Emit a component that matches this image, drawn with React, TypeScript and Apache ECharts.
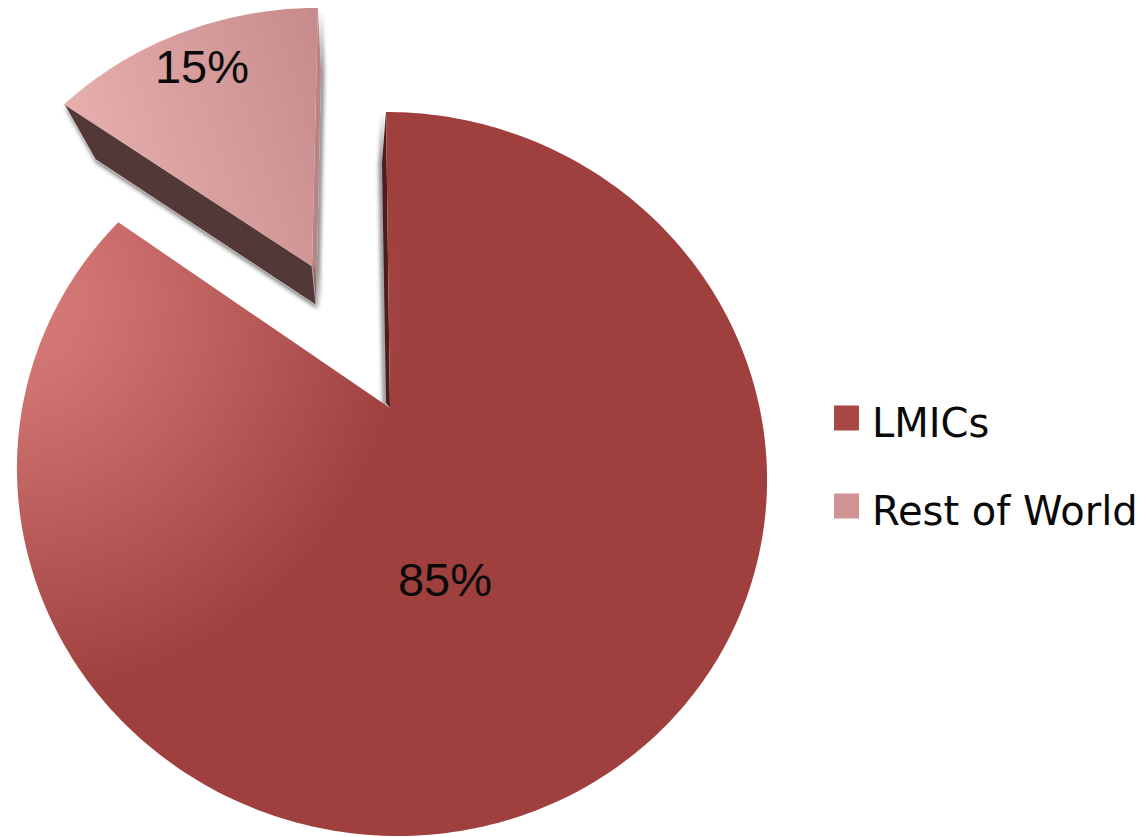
import React, { useEffect, useRef } from "react";
import * as echarts from "echarts";

const categories = ["LMICs", "Rest of World"];
const shares = [85, 15];
const legendColors = ["#a94745", "#d09292"];

// Square swatch with an empty stretch below it, so it sits a little above the text's centre line.
const LEGEND_ICON = "path://M0 0H25V25H0Z M0 35L0 35";

// Perspective disk: the pie's true centre lands off the centre of the outline ellipse.
const ELLIPSE = { cx: 392, cy: 474, rx: 375, ry: 362, tilt: 0.182, shear: -6 };
const PIE_APEX: [number, number] = [390, 408];

type Pt = [number, number];

function project(turn: number): Pt {
  const a = turn * Math.PI * 2;
  const x = Math.sin(a);
  const y = Math.cos(a);
  const e = ELLIPSE.tilt;
  const d = 1 + e * y;
  const py = (y + e) / d;
  const px = (x * Math.sqrt(1 - e * e)) / d;
  return [ELLIPSE.cx + ELLIPSE.rx * px + ELLIPSE.shear * py, ELLIPSE.cy - ELLIPSE.ry * py];
}

function sliceOutline(fromTurn: number, toTurn: number): Pt[] {
  const steps = Math.max(12, Math.round((toTurn - fromTurn) * 360));
  const pts: Pt[] = [PIE_APEX];
  for (let i = 0; i <= steps; i++) pts.push(project(fromTurn + ((toTurn - fromTurn) * i) / steps));
  return pts;
}

// The pulled-out slice sits further back, so it is drawn smaller and moved up and to the left.
const PULLED_APEX: Pt = [312, 266];
function pullOut(p: Pt): Pt {
  const dx = p[0] - PIE_APEX[0];
  const dy = p[1] - PIE_APEX[1];
  return [PULLED_APEX[0] + 0.934 * dx - 0.0327 * dy, PULLED_APEX[1] - 0.001 * dx + 0.872 * dy];
}

const shift = (p: Pt, dx: number, dy: number): Pt => [p[0] + dx, p[1] + dy];
const edgeShadow = { shadowColor: "rgba(0,0,0,0.55)", shadowBlur: 4 };

function percentText(value: number, x: number, y: number) {
  return {
    type: "text",
    style: {
      text: `${value}%`,
      x,
      y,
      fontSize: 47,
      fontFamily: "Liberation Sans",
      fill: "#0a0a0a",
      align: "center",
      verticalAlign: "middle",
    },
  };
}

function renderMainSlice(_: unknown, api: any) {
  const value = api.value(0);
  const end = value / 100;
  const pts = sliceOutline(0, end);
  const top = pts[1];
  const wall = [PIE_APEX, top, shift(top, -4, 51), shift(PIE_APEX, -4, -5)];
  return {
    type: "group",
    children: [
      {
        type: "polygon",
        shape: { points: wall },
        style: { fill: "#4e1e1d", ...edgeShadow, shadowOffsetX: -3, shadowOffsetY: 1 },
      },
      {
        type: "polygon",
        shape: { points: pts },
        style: {
          // Highlight comes from beyond the left rim and fades out across the slice.
          fill: new echarts.graphic.RadialGradient(
            10, 300, 400,
            [
              { offset: 0, color: "#d67c7a" },
              { offset: 0.2, color: "#d07472" },
              { offset: 1, color: "#9f403f" },
            ],
            true
          ),
        },
      },
      percentText(value, 445, 579),
    ],
  };
}

function renderPulledSlice(_: unknown, api: any) {
  const value = api.value(0);
  const start = 1 - value / 100;
  const pts = sliceOutline(start, 1).map(pullOut);
  const apex = pts[0];
  const left = pts[1];
  const top = pts[pts.length - 1];
  const frontWall = [left, apex, shift(apex, 4, 39), shift(left, 31, 55)];
  const sideWall = [top, shift(top, 3, 62), shift(apex, 4, 39), apex];
  return {
    type: "group",
    children: [
      {
        type: "polygon",
        shape: { points: sideWall },
        style: { fill: "#bb8484", ...edgeShadow, shadowOffsetX: 3, shadowOffsetY: 2 },
      },
      {
        type: "polygon",
        shape: { points: frontWall },
        style: {
          fill: "#533838",
          stroke: "#d5cccc",
          lineWidth: 0.6,
          ...edgeShadow,
          shadowOffsetX: 1,
          shadowOffsetY: 3,
        },
      },
      {
        type: "polygon",
        shape: { points: pts },
        style: {
          fill: new echarts.graphic.LinearGradient(
            70, 110, 320, 30,
            [
              { offset: 0, color: "#e7aeae" },
              { offset: 1, color: "#c78b8b" },
            ],
            true
          ),
        },
      },
      percentText(value, 202, 66),
    ],
  };
}

export default function App() {
  const ref = useRef<HTMLDivElement>(null);

  useEffect(() => {
    const chart = echarts.init(ref.current!, undefined, { renderer: "svg" });
    chart.setOption({
      animation: false,
      backgroundColor: "#ffffff",
      legend: {
        orient: "vertical",
        left: 829,
        top: 398,
        itemWidth: 25,
        itemHeight: 35,
        itemGap: 48,
        selectedMode: false,
        data: categories.map((name, i) => ({
          name,
          icon: LEGEND_ICON,
          itemStyle: { color: legendColors[i] },
        })),
        textStyle: {
          fontFamily: "DejaVu Sans",
          fontSize: 40,
          color: "#0a0a0a",
          padding: [0, 0, 0, 8],
        },
      },
      series: [
        {
          type: "custom",
          name: categories[0],
          coordinateSystem: "none",
          silent: true,
          data: [[shares[0]]],
          itemStyle: { color: legendColors[0] },
          renderItem: renderMainSlice,
        },
        {
          type: "custom",
          name: categories[1],
          coordinateSystem: "none",
          silent: true,
          data: [[shares[1]]],
          itemStyle: { color: legendColors[1] },
          renderItem: renderPulledSlice,
        },
      ],
    });
    return () => chart.dispose();
  }, []);

  return <div ref={ref} style={{ position: "fixed", left: 0, top: 0, width: 1148, height: 837 }} />;
}
